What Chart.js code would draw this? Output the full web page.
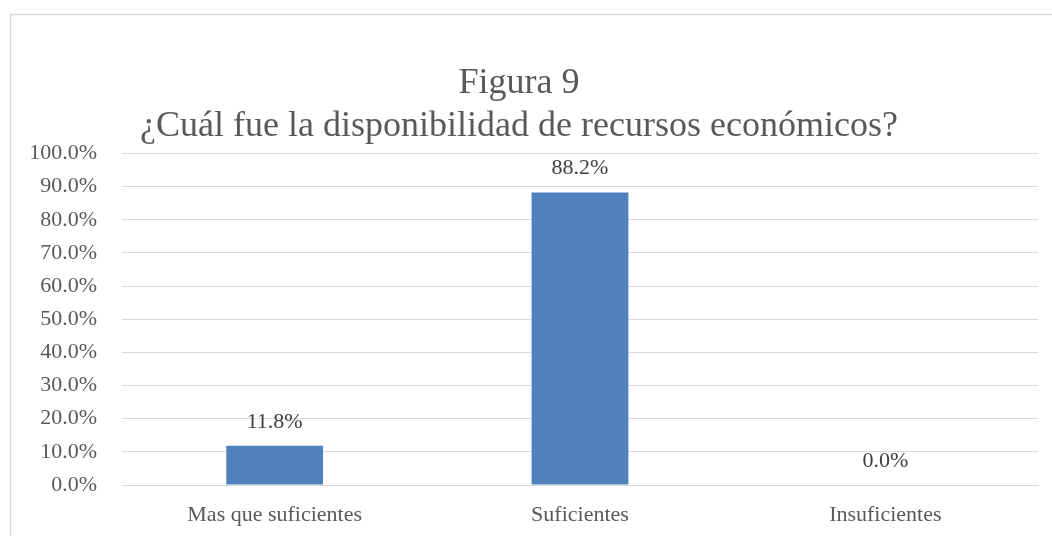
<!DOCTYPE html>
<html lang="es">
<head>
  <meta charset="UTF-8">
  <title>Figura 9</title>
  <script src="https://cdn.jsdelivr.net/npm/chart.js"></script>
  <style>
    html, body { margin: 0; padding: 0; background: #fff; }
    #wrap { width: 1052px; height: 536px; position: relative; }
  </style>
</head>
<body>
  <div id="wrap"><canvas id="graphCanvas"></canvas></div>
  <script>
    const categories = ['Mas que suficientes', 'Suficientes', 'Insuficientes'];
    const values = [11.8, 88.2, 0.0];
    const titleLines = ['Figura 9', '¿Cuál fue la disponibilidad de recursos económicos?'];

    const serif = "'Liberation Serif', 'Times New Roman', serif";
    const textColor = '#595959';

    // thin frame around the whole chart, like the office export
    const framePlugin = {
      id: 'frame',
      beforeDraw(chart) {
        const c = chart.ctx;
        c.save();
        c.strokeStyle = '#d9d9d9';
        c.lineWidth = 1.5;
        c.strokeRect(10.5, 14.5, chart.width + 20, chart.height + 20);
        c.restore();
      }
    };

    // value labels above each bar
    const labelPlugin = {
      id: 'barLabels',
      afterDatasetsDraw(chart) {
        const c = chart.ctx;
        const meta = chart.getDatasetMeta(0);
        c.save();
        c.font = '22px ' + serif;
        c.fillStyle = '#404040';
        c.textAlign = 'center';
        c.textBaseline = 'middle';
        meta.data.forEach((bar, i) => {
          c.fillText(values[i].toFixed(1) + '%', bar.x, bar.y - 24);
        });
        c.restore();
      }
    };

    const ctx = document.getElementById('graphCanvas').getContext('2d');
    const myChart = new Chart(ctx, {
      type: 'bar',
      data: {
        labels: categories,
        datasets: [{
          data: values,
          backgroundColor: '#4f81bd',
          barPercentage: 0.317,
          categoryPercentage: 1.0
        }]
      },
      options: {
        responsive: true,
        maintainAspectRatio: false,
        animation: false,
        layout: { padding: { left: 0, right: 14, top: 62, bottom: 7 } },
        plugins: {
          legend: { display: false },
          tooltip: { enabled: false },
          title: {
            display: true,
            text: titleLines,
            color: textColor,
            font: { family: serif, size: 36, weight: 'normal', lineHeight: 1.2 },
            padding: { top: 0, bottom: 5 }
          }
        },
        scales: {
          x: {
            afterFit(scale) { scale.height = 44; },
            grid: { display: false, drawTicks: false },
            border: { display: true, color: '#d9d9d9' },
            ticks: { color: textColor, font: { family: serif, size: 22 }, padding: 17 }
          },
          y: {
            min: 0,
            max: 100,
            afterFit(scale) { scale.width = 122; },
            grid: { color: '#d9d9d9', drawTicks: false },
            border: { display: false },
            ticks: {
              stepSize: 10,
              color: textColor,
              padding: 25,
              font: { family: serif, size: 22 },
              callback: v => v.toFixed(1) + '%'
            }
          }
        }
      },
      plugins: [framePlugin, labelPlugin]
    });
  </script>
</body>
</html>
